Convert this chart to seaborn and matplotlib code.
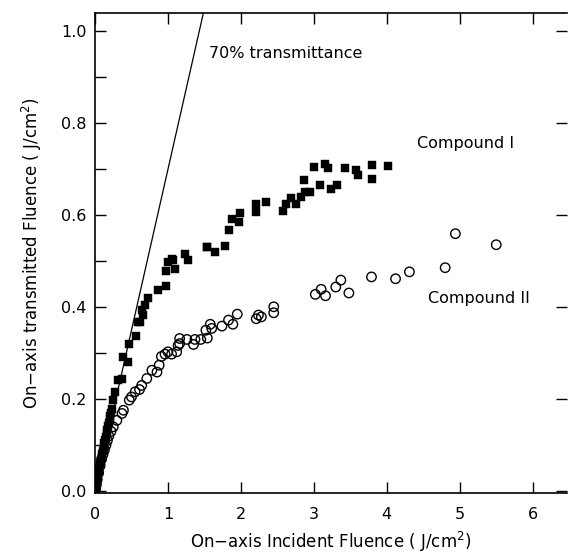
import numpy as np
import pandas as pd
import matplotlib
matplotlib.use("Agg")
import matplotlib.pyplot as plt
from matplotlib.ticker import MultipleLocator
import seaborn as sns

# Compound I (filled squares)
c1_x = [0.005, 0.01, 0.02, 0.03, 0.04, 0.05, 0.06, 0.07, 0.08, 0.09, 0.10, 0.11, 0.12, 0.13,
        0.14, 0.15, 0.16, 0.17, 0.18, 0.19, 0.20, 0.21, 0.22, 0.23, 0.25, 0.27, 0.31, 0.37,
        0.39, 0.45, 0.47, 0.56, 0.59, 0.62, 0.64, 0.66, 0.68, 0.73, 0.87, 0.97, 0.97, 1.00,
        1.06, 1.07, 1.10, 1.23, 1.28, 1.53, 1.54, 1.64, 1.78, 1.84, 1.88, 1.98, 1.99, 2.21,
        2.21, 2.35, 2.58, 2.62, 2.68, 2.75, 2.83, 2.88, 2.95, 2.87, 3.00, 3.09, 3.15, 3.20,
        3.24, 3.32, 3.43, 3.58, 3.61, 3.80, 3.80, 4.01]
c1_y = [0.005, 0.01, 0.018, 0.026, 0.034, 0.042, 0.05, 0.058, 0.066, 0.073, 0.081, 0.088, 0.096, 0.104,
        0.111, 0.118, 0.126, 0.133, 0.141, 0.148, 0.156, 0.163, 0.170, 0.178, 0.198, 0.215, 0.241, 0.245,
        0.291, 0.280, 0.320, 0.337, 0.368, 0.368, 0.393, 0.383, 0.404, 0.421, 0.437, 0.446, 0.478, 0.499,
        0.506, 0.502, 0.484, 0.515, 0.502, 0.531, 0.531, 0.520, 0.533, 0.567, 0.593, 0.585, 0.605, 0.625,
        0.607, 0.629, 0.609, 0.624, 0.638, 0.625, 0.640, 0.651, 0.651, 0.676, 0.705, 0.665, 0.711, 0.702,
        0.657, 0.665, 0.703, 0.698, 0.687, 0.710, 0.678, 0.707]

# Compound II (open circles)
c2_x = [0.005, 0.01, 0.02, 0.03, 0.05, 0.07, 0.09, 0.11, 0.13, 0.15, 0.17, 0.19, 0.22, 0.25,
        0.30, 0.37, 0.39, 0.47, 0.50, 0.55, 0.61, 0.64, 0.71, 0.78, 0.85, 0.88, 0.91, 0.96,
        1.00, 1.05, 1.12, 1.14, 1.16, 1.16, 1.26, 1.35, 1.37, 1.45, 1.54, 1.52, 1.58, 1.60,
        1.74, 1.83, 1.89, 1.95, 2.21, 2.24, 2.28, 2.45, 2.45, 3.02, 3.10, 3.16, 3.30, 3.37,
        3.48, 3.79, 4.12, 4.31, 4.80, 4.94, 5.50]
c2_y = [0.004, 0.008, 0.015, 0.025, 0.04, 0.055, 0.07, 0.08, 0.09, 0.10, 0.11, 0.12, 0.13, 0.140,
        0.154, 0.169, 0.176, 0.198, 0.205, 0.216, 0.221, 0.230, 0.245, 0.263, 0.259, 0.274, 0.293, 0.298,
        0.303, 0.298, 0.303, 0.317, 0.321, 0.332, 0.330, 0.319, 0.330, 0.330, 0.333, 0.350, 0.363, 0.354,
        0.359, 0.372, 0.363, 0.385, 0.375, 0.383, 0.379, 0.401, 0.388, 0.428, 0.439, 0.425, 0.444, 0.459,
        0.431, 0.466, 0.462, 0.477, 0.486, 0.560, 0.536]

# 70% transmittance reference line
trans_frac = 0.7
line_x = [0.0, 1.6]
line_y = [trans_frac * v for v in line_x]

x_ticks = [0, 1, 2, 3, 4, 5, 6]
y_ticks = [0.0, 0.2, 0.4, 0.6, 0.8, 1.0]
y_tick_labels = ["0.0", "0.2", "0.4", "0.6", "0.8", "1.0"]

sns.set_style("ticks")
plt.rcParams['font.family'] = ['DejaVu Sans']
plt.rcParams['text.color'] = 'black'
plt.rcParams['axes.labelcolor'] = 'black'
plt.rcParams['xtick.color'] = 'black'
plt.rcParams['ytick.color'] = 'black'

fig = plt.figure(figsize=(5.68, 5.57), dpi=100)
ax = fig.add_axes([95/568, 1 - 493/557, (567 - 95)/568, (493 - 13)/557])

df1 = pd.DataFrame({"x": c1_x, "y": c1_y})
df2 = pd.DataFrame({"x": c2_x, "y": c2_y})
dfl = pd.DataFrame({"x": line_x, "y": line_y})

sns.lineplot(data=dfl, x="x", y="y", ax=ax, color="black", linewidth=0.9)
sns.scatterplot(data=df1, x="x", y="y", ax=ax, marker="s", s=28, color="black",
                edgecolor="black", linewidth=0.3)
sns.scatterplot(data=df2, x="x", y="y", ax=ax, marker="o", s=46, facecolor="none",
                edgecolor="black", linewidth=1.0)

ax.set_xlim(0, 6.47)
ax.set_ylim(-0.004, 1.04)
ax.set_xticks(x_ticks)
ax.set_xticklabels([str(t) for t in x_ticks])
ax.set_yticks(y_ticks)
ax.set_yticklabels(y_tick_labels)
ax.yaxis.set_minor_locator(MultipleLocator(0.1))

ax.tick_params(axis="both", which="major", direction="in", length=8, width=1.0,
               labelsize=11.5, top=True, right=True, pad=6, color="black", labelcolor="black")
ax.tick_params(axis="y", which="minor", direction="in", length=8, width=1.0,
               left=True, right=False, color="black")
ax.tick_params(axis="x", which="major", pad=10)

for side in ["left", "bottom", "top"]:
    ax.spines[side].set_linewidth(1.2)
    ax.spines[side].set_color("black")
ax.spines["right"].set_visible(False)

ax.set_xlabel("On\u2212axis Incident Fluence ( J/cm$^2$)", fontsize=12, labelpad=6, color="black")
ax.set_ylabel("On\u2212axis transmitted Fluence ( J/cm$^2$)", fontsize=12, labelpad=12, color="black")

ax.text(1.56, 0.952, "70% transmittance", fontsize=11.5, va="center", ha="left", color="black")
ax.text(4.42, 0.757, "Compound I", fontsize=11.5, va="center", ha="left", color="black")
ax.text(4.56, 0.42, "Compound II", fontsize=11.5, va="center", ha="left", color="black")

fig.savefig("out.png", dpi=100)
